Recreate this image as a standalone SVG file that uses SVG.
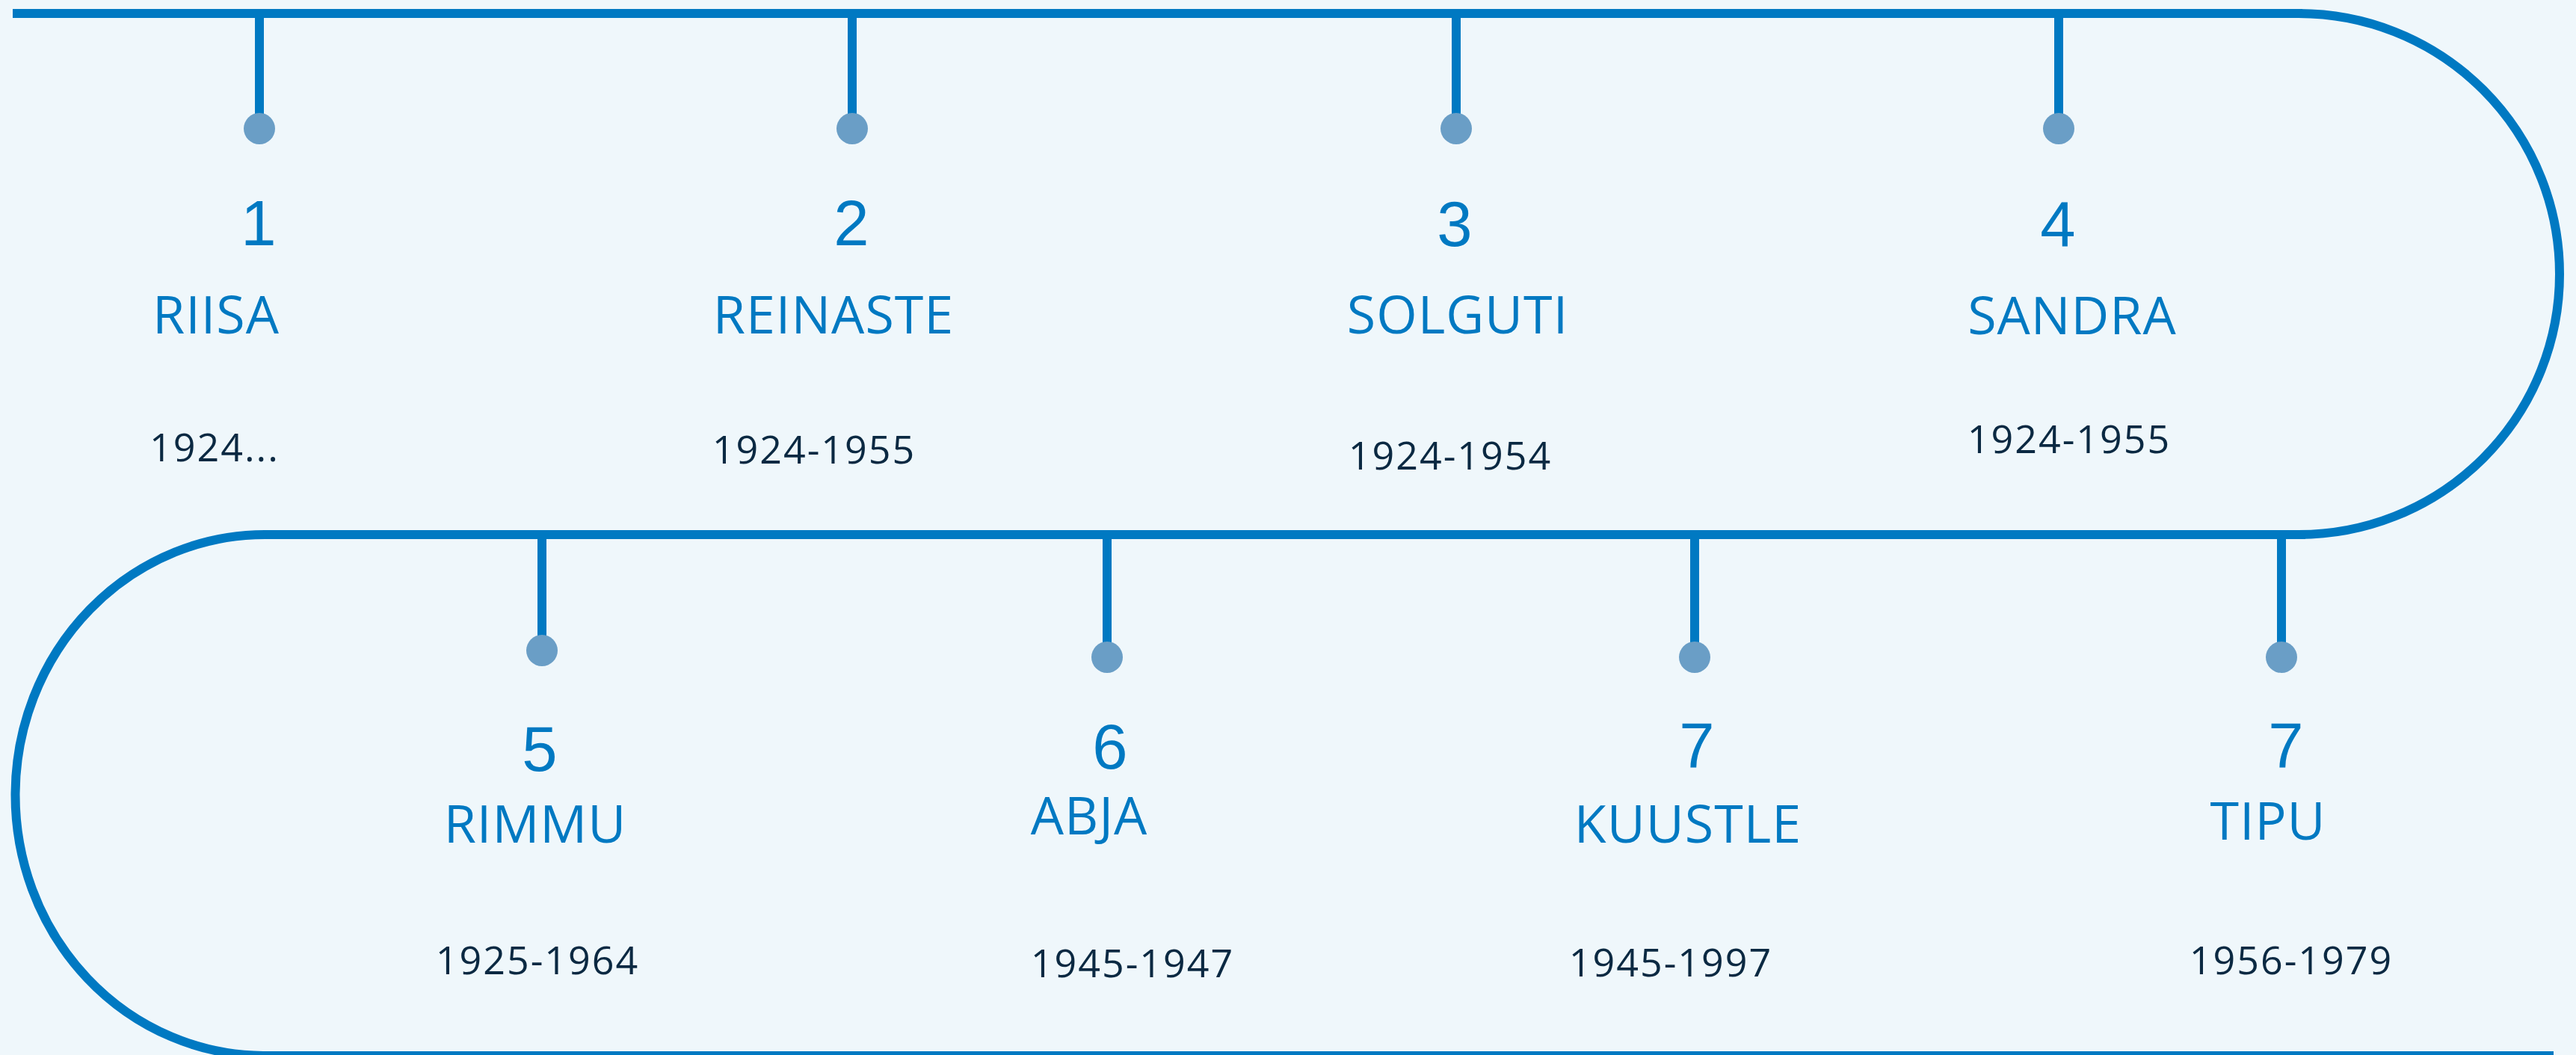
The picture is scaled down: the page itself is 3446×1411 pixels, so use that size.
<svg xmlns="http://www.w3.org/2000/svg" width="3446" height="1411" viewBox="0 0 3446 1411">
<style>
.ln{fill:none;stroke:#0079c2;stroke-width:12}
.st{stroke:#0079c2;stroke-width:12}
.dot{fill:#6a9ec6}
.num{font-family:"Liberation Sans",Arial,sans-serif;font-size:85px;fill:#0079c2;text-anchor:middle}
.name{font-family:"Open Sans",sans-serif;font-size:70px;fill:#0079c2;text-anchor:middle;letter-spacing:1px}
.date{font-family:"Open Sans",sans-serif;font-size:52px;fill:#0b2942;text-anchor:middle;letter-spacing:2px}
</style>
<rect x="0" y="0" width="3446" height="1411" fill="#eff7fb"/>
<g id="connectors">
<path class="ln" d="M17 18 H3080"/>
<path class="ln" d="M3075 18 A349 348.5 0 0 1 3075 715"/>
<path class="ln" d="M3084 715 H352"/>
<path class="ln" d="M357 715 A334 348.5 0 0 0 352 1412"/>
<path class="ln" d="M347 1412 H3416"/>
</g>
<g id="node1">
<line class="st" x1="347" y1="18" x2="347" y2="160"/>
<circle class="dot" cx="347" cy="172" r="21"/>
<text class="num" x="346" y="328">1</text>
<text class="name" x="289" y="446">RIISA</text>
<text class="date" x="287" y="617">1924...</text>
</g>
<g id="node2">
<line class="st" x1="1140" y1="18" x2="1140" y2="160"/>
<circle class="dot" cx="1140" cy="172" r="21"/>
<text class="num" x="1139" y="328">2</text>
<text class="name" x="1115" y="446">REINASTE</text>
<text class="date" x="1089" y="620">1924-1955</text>
</g>
<g id="node3">
<line class="st" x1="1948" y1="18" x2="1948" y2="160"/>
<circle class="dot" cx="1948" cy="172" r="21"/>
<text class="num" x="1946" y="329">3</text>
<text class="name" x="1950" y="446">SOLGUTI</text>
<text class="date" x="1940" y="628">1924-1954</text>
</g>
<g id="node4">
<line class="st" x1="2754" y1="18" x2="2754" y2="160"/>
<circle class="dot" cx="2754" cy="172" r="21"/>
<text class="num" x="2753" y="329">4</text>
<text class="name" x="2772" y="447">SANDRA</text>
<text class="date" x="2768" y="606">1924-1955</text>
</g>
<g id="node5">
<line class="st" x1="725" y1="715" x2="725" y2="860"/>
<circle class="dot" cx="725" cy="870" r="21"/>
<text class="num" x="722" y="1031">5</text>
<text class="name" x="716" y="1127">RIMMU</text>
<text class="date" x="719" y="1303">1925-1964</text>
</g>
<g id="node6">
<line class="st" x1="1481" y1="715" x2="1481" y2="870"/>
<circle class="dot" cx="1481" cy="879" r="21"/>
<text class="num" x="1485" y="1028">6</text>
<text class="name" x="1457" y="1116">ABJA</text>
<text class="date" x="1515" y="1307">1945-1947</text>
</g>
<g id="node7">
<line class="st" x1="2267" y1="715" x2="2267" y2="870"/>
<circle class="dot" cx="2267" cy="879" r="21"/>
<text class="num" x="2270" y="1026">7</text>
<text class="name" x="2258" y="1127">KUUSTLE</text>
<text class="date" x="2235" y="1306">1945-1997</text>
</g>
<g id="node8">
<line class="st" x1="3052" y1="715" x2="3052" y2="870"/>
<circle class="dot" cx="3052" cy="879" r="21"/>
<text class="num" x="3058" y="1026">7</text>
<text class="name" x="3034" y="1123">TIPU</text>
<text class="date" x="3065" y="1303">1956-1979</text>
</g>
</svg>
